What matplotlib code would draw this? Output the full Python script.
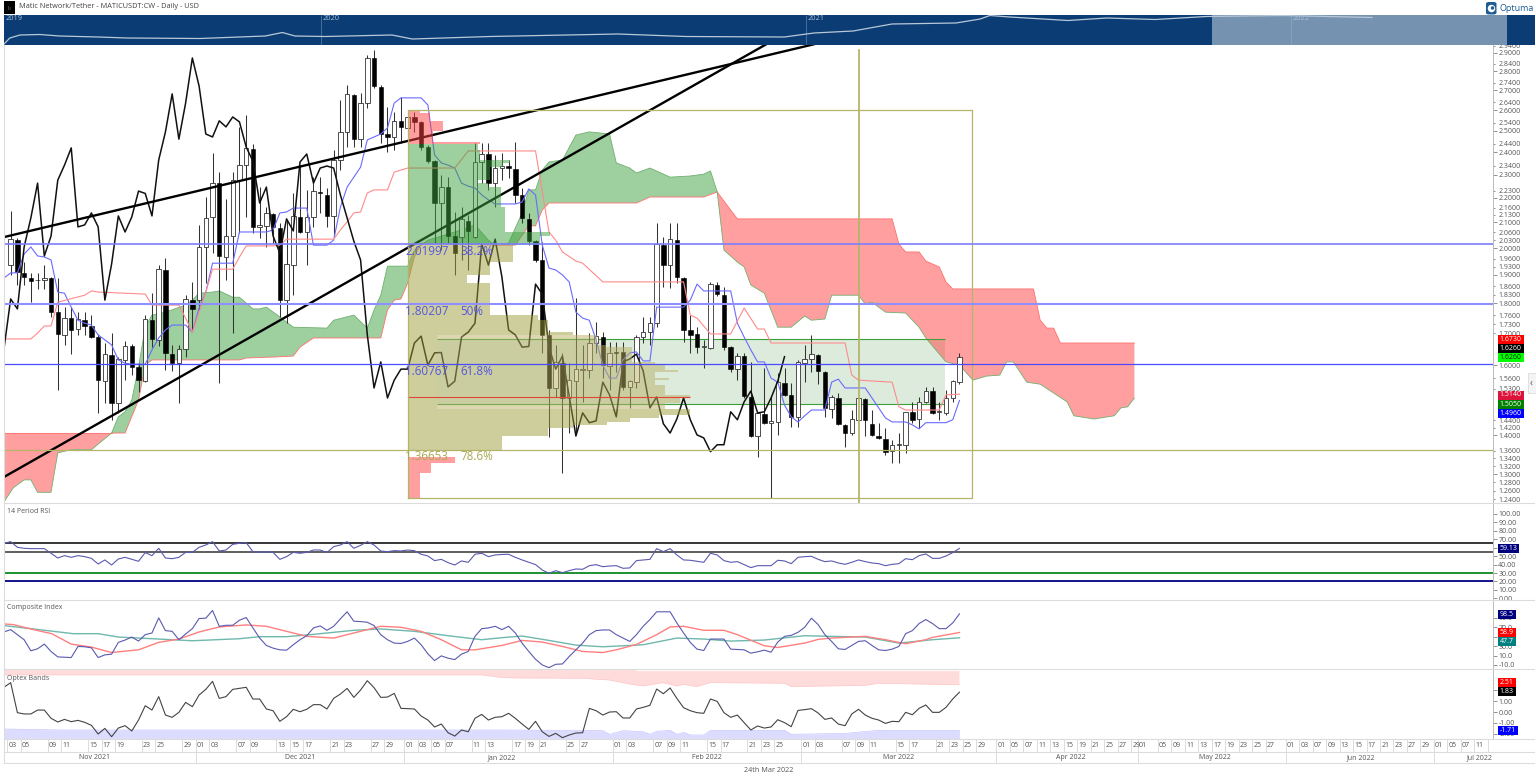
import numpy as np
import pandas as pd
import matplotlib
matplotlib.use('Agg')
from matplotlib import pyplot as plt
from matplotlib.lines import Line2D
from matplotlib.patches import Rectangle, FancyBboxPatch, Ellipse
from matplotlib.ticker import FixedLocator, FormatStrFormatter, NullFormatter

plt.rcParams['font.family'] = ['Open Sans', 'DejaVu Sans']

# candles, one per day from 3 Nov 2021 to 24 Mar 2022
opens = [1.936,2.030,1.907,1.889,1.882,1.882,1.889,1.770,1.695,1.750,
         1.714,1.743,1.724,1.688,1.552,1.631,1.489,1.616,1.659,1.594,
         1.552,1.743,1.679,1.918,1.634,1.606,1.650,1.811,1.811,2.004,
         2.122,2.263,1.966,2.046,2.276,2.342,2.415,2.082,2.086,2.134,
         2.078,1.811,1.936,2.122,2.062,2.122,2.225,2.213,2.126,2.365,
         2.495,2.677,2.461,2.636,2.872,2.718,2.485,2.471,2.548,2.514,
         2.567,2.543,2.424,2.360,2.179,2.246,2.046,2.042,2.106,2.042,
         2.356,2.392,2.263,2.329,2.338,2.325,2.213,2.114,2.026,1.955,
         1.695,1.532,1.606,1.503,1.552,1.585,1.585,1.669,1.688,1.597,
         1.641,1.641,1.535,1.549,1.688,1.704,1.733,2.011,1.936,2.030,
         1.889,1.711,1.698,1.656,1.653,1.864,1.828,1.656,1.588,1.628,
         1.506,1.398,1.458,1.434,1.436,1.546,1.512,1.450,1.606,1.619,
         1.631,1.579,1.472,1.503,1.428,1.406,1.442,1.500,1.431,1.398,
         1.390,1.359,1.375,1.375,1.464,1.444,1.492,1.523,1.464,1.461,
         1.503,1.549]
highs = [2.146,2.038,1.947,1.907,1.907,1.936,1.893,1.889,1.787,1.787,
         1.770,1.770,1.760,1.698,1.669,1.701,1.625,1.675,1.666,1.606,
         1.760,1.835,1.936,1.962,1.663,1.663,1.828,1.875,2.090,2.204,
         2.397,2.311,2.196,2.311,2.519,2.577,2.438,2.246,2.162,2.138,
         2.098,2.110,2.221,2.342,2.234,2.289,2.289,2.242,2.410,2.652,
         2.729,2.682,2.687,2.889,2.917,2.729,2.616,2.591,2.667,2.591,
         2.591,2.548,2.434,2.365,2.298,2.289,2.142,2.162,2.130,2.443,
         2.443,2.443,2.387,2.397,2.365,2.448,2.242,2.138,2.030,2.023,
         1.711,1.663,1.638,1.606,1.818,1.663,1.701,1.737,1.704,1.672,
         1.672,1.672,1.555,1.695,1.753,1.753,2.098,2.042,2.098,2.098,
         1.893,1.760,1.720,1.679,1.875,1.875,1.857,1.659,1.638,1.638,
         1.610,1.464,1.591,1.506,1.576,1.591,1.546,1.616,1.663,1.695,
         1.634,1.582,1.512,1.518,1.431,1.469,1.506,1.503,1.469,1.434,
         1.420,1.388,1.406,1.464,1.492,1.506,1.535,1.535,1.492,1.526,
         1.555,1.638]
lows = [1.900,1.864,1.864,1.804,1.850,1.850,1.754,1.526,1.663,1.634,
        1.695,1.695,1.685,1.461,1.489,1.442,1.461,1.555,1.570,1.520,
        1.549,1.656,1.659,1.585,1.582,1.489,1.625,1.711,1.777,1.871,
        1.981,1.546,1.882,1.701,2.058,2.122,2.058,2.038,2.004,2.019,
        1.754,1.733,1.828,2.058,1.936,2.082,2.138,2.082,2.042,2.320,
        2.424,2.424,2.424,2.611,2.713,2.443,2.402,2.410,2.443,2.490,
        2.495,2.410,2.352,2.019,1.992,2.019,1.900,1.955,1.918,2.038,
        2.263,2.234,2.162,2.276,2.285,2.179,2.098,2.011,1.947,1.638,
        1.396,1.506,1.304,1.406,1.406,1.492,1.561,1.638,1.561,1.526,
        1.579,1.526,1.475,1.532,1.669,1.663,1.720,1.857,1.853,1.871,
        1.672,1.638,1.638,1.591,1.650,1.825,1.647,1.579,1.555,1.503,
        1.396,1.343,1.431,1.243,1.401,1.509,1.423,1.423,1.549,1.579,
        1.543,1.450,1.447,1.428,1.370,1.401,1.442,1.398,1.398,1.390,
        1.349,1.328,1.328,1.354,1.434,1.420,1.489,1.458,1.442,1.456,
        1.492,1.543]
closes = [2.034,1.911,1.893,1.878,1.880,1.889,1.770,1.698,1.750,1.711,
          1.747,1.724,1.688,1.555,1.634,1.489,1.619,1.659,1.594,1.555,
          1.747,1.682,1.921,1.638,1.606,1.650,1.815,1.781,2.004,2.118,
          2.263,1.970,2.046,2.276,2.342,2.420,2.082,2.090,2.138,2.082,
          1.811,1.940,2.126,2.062,2.122,2.229,2.219,2.126,2.365,2.495,
          2.682,2.461,2.636,2.872,2.723,2.485,2.471,2.548,2.519,2.567,
          2.543,2.424,2.360,2.179,2.246,2.046,1.981,2.114,2.066,2.356,
          2.392,2.263,2.329,2.338,2.329,2.213,2.118,2.026,1.955,1.695,
          1.532,1.610,1.503,1.555,1.588,1.588,1.669,1.691,1.600,1.638,
          1.639,1.535,1.552,1.688,1.704,1.733,2.015,1.936,2.034,1.893,
          1.711,1.695,1.656,1.658,1.867,1.832,1.656,1.588,1.628,1.509,
          1.398,1.461,1.434,1.439,1.549,1.512,1.450,1.610,1.619,1.634,
          1.582,1.475,1.506,1.431,1.406,1.444,1.503,1.442,1.401,1.393,
          1.357,1.375,1.375,1.464,1.442,1.492,1.523,1.461,1.464,1.503,
          1.552,1.626]

# ichimoku lines, tenkan starts one bar before the first candle
tenkan = [1.889,1.907,1.908,1.977,2.004,1.970,1.966,1.955,1.839,1.835,1.787,1.743,1.733,1.727,1.695,1.679,1.663,1.616,1.606,1.603,
          1.603,1.603,1.647,1.685,1.711,1.727,1.727,1.727,1.704,1.784,1.839,1.943,1.943,1.943,1.943,2.062,2.062,2.062,2.062,2.062,
          2.070,2.138,2.142,2.158,2.158,2.158,2.011,2.011,2.011,2.030,2.162,2.246,2.289,2.333,2.457,2.471,2.485,2.514,2.636,2.662,
          2.662,2.662,2.662,2.626,2.387,2.352,2.342,2.329,2.263,2.250,2.242,2.213,2.192,2.175,2.175,2.175,2.175,2.183,2.238,2.213,
          2.011,1.925,1.918,1.900,1.875,1.770,1.750,1.743,1.679,1.600,1.561,1.561,1.616,1.638,1.641,1.613,1.613,1.787,1.787,1.787,
          1.787,1.787,1.811,1.867,1.843,1.843,1.843,1.843,1.843,1.733,1.688,1.647,1.610,1.610,1.561,1.549,1.483,1.450,1.436,1.453,
          1.469,1.469,1.469,1.549,1.558,1.532,1.532,1.532,1.532,1.503,1.475,1.447,1.436,1.436,1.436,1.428,1.417,1.434,1.434,1.434,
          1.434,1.442,1.496]
kijun_days = [-1,3,4,5,6,7,11,12,13,20,21,25,26,27,28,29,30,33,34,35,39,40,41,48,49,50,51,52,53,54,56,57,58,59,66,68,78,80,81,82,84,85,88,100,101,102,104,107,109,111,112,113,124,125,126,131,132,133,138,139,141]
kijun = [1.682,1.682,1.701,1.724,1.724,1.804,1.828,1.843,1.839,1.832,1.794,1.794,1.750,1.704,1.770,1.839,1.921,1.921,1.966,2.008,2.008,2.011,2.034,2.034,2.070,2.102,2.138,2.142,2.221,2.234,2.234,2.311,2.320,2.329,2.329,2.406,2.406,2.062,2.030,1.985,1.951,1.943,1.875,1.875,1.760,1.750,1.698,1.698,1.784,1.714,1.714,1.669,1.669,1.570,1.555,1.549,1.478,1.469,1.469,1.512,1.514]

# cloud edges, day positions run past the last candle
red1_top_days = [-1,15]
red1_top = [1.406,1.406]
red1_bot_days = [-1,0.4,2,3,4,6,7,9,12,15]
red1_bot = [1.233,1.267,1.286,1.286,1.256,1.256,1.354,1.362,1.362,1.406]
green_top_days = [15,16,17,18,19,20,21,23,26,27,28,30,31,33,34,36,37,38,40,42,47,48,51,53,54,55,56,59,60,62,66,69,71,72,74,76,77,78,79,80,82,84,86,89,90,92,93,95,98,101,103,104,105]
green_top = [1.406,1.450,1.464,1.497,1.594,1.720,1.760,1.770,1.794,1.811,1.835,1.839,1.843,1.821,1.821,1.781,1.781,1.787,1.754,1.720,1.717,1.743,1.760,1.717,1.777,1.828,1.932,1.932,1.992,2.030,2.062,2.090,2.030,2.011,2.019,2.138,2.234,2.234,2.320,2.356,2.365,2.480,2.495,2.485,2.352,2.329,2.307,2.329,2.289,2.294,2.302,2.316,2.225]
green_bot_days = [15,17,19,20,21,34,35,39,42,43,45,55,56,57,58,59,60,61,72,75,77,78,79,80,93,95,103,105]
green_bot = [1.406,1.406,1.497,1.600,1.616,1.616,1.622,1.625,1.628,1.656,1.685,1.685,1.777,1.811,1.815,1.871,1.966,2.019,2.011,2.011,2.086,2.086,2.150,2.179,2.179,2.204,2.204,2.225]
red2_top_days = [105,107,108,131,132,133,135,136,138,139,140,152,153,154,155,156,167]
red2_top = [2.225,2.150,2.114,2.114,2.015,1.985,1.985,1.951,1.929,1.875,1.850,1.850,1.743,1.717,1.717,1.669,1.669]
red2_bot_days = [105,106,108,109,110,112,114,116,118,119,121,122,126,127,128,130,133,135,136,139,141,143,145,147,148,149,151,153,157,158,161,164,165,166,167]
red2_bot = [2.225,1.992,1.947,1.929,1.864,1.835,1.720,1.720,1.757,1.743,1.747,1.828,1.828,1.798,1.804,1.770,1.767,1.720,1.685,1.610,1.600,1.555,1.567,1.570,1.610,1.610,1.549,1.543,1.492,1.453,1.444,1.453,1.475,1.478,1.503]

# volume profile, price band and length in bars
prof_high = [2.601,2.586,2.548,2.500,2.448, 2.438,2.410,2.365,2.352,2.333,2.276,2.263,2.246,2.162,2.062,2.046,
             2.011,1.947,1.900,1.871,1.818,1.760,1.743,1.704,1.695,1.663,1.656,1.610,1.600,1.585,1.579,1.561,1.555,1.541,1.512,1.503,1.489,1.472,1.456,1.447,1.436,1.428,1.420,1.398,
             1.344,1.328,1.304]
prof_low = [2.586,2.548,2.500,2.448,2.438, 2.410,2.365,2.352,2.333,2.276,2.263,2.246,2.162,2.062,2.046,2.011,
            1.947,1.900,1.871,1.818,1.760,1.743,1.704,1.695,1.663,1.656,1.610,1.600,1.585,1.579,1.561,1.555,1.541,1.512,1.503,1.489,1.472,1.456,1.447,1.436,1.428,1.420,1.398,1.362,
            1.328,1.304,1.243]
prof_len = [1.8,3.3,5.2,3.7,10.7, 10.4,10.7,15.2,14.1,12.2,10.4,11.9,13.8,14.4,21.1,19.6,
            15.6,12.2,8.8,12.2,12.2,19.3,20.8,24.5,28.1,29.4,33.4,36.7,38.3,40.1,36.7,38.9,36.7,38.3,41.9,40.4,38.3,41.9,37.4,33,29.6,24.5,20.8,14,
            7,3.4,1.8]
prof_kind = ['r']*5 + ['g']*11 + ['o']*28 + ['r']*3

fib_levels = [2.015,1.797,1.603,1.362]
fib_names = ['2.01997','1.80207','1.60767','1.36653']
fib_pcts = ['38.2%','50%','61.8%','78.6%']
box_days = [59,142.9]
box_prices = [1.243,2.601]
cycle_day = 126
cycle_prices = [1.2306,2.916]
value_days = [63.4,138.8]
value_prices = [1.486,1.683]
poc_days = [59,100.9]
poc_price = 1.506
trend1_days = [-1,122]
trend1 = [2.042,2.972]
trend2_days = [-1,115]
trend2 = [1.293,3.007]

rsi = [65.2,67.2,60.5,59.3,58.9,58.9,58.9,53.4,47.8,50.6,48.6,50.6,49.4,47.4,40.7,45.5,39.5,46.6,48.6,46.2,
       43.9,54.2,50.6,59.3,47.8,47,48.6,54.5,54.5,60.5,63.2,67.2,56.1,57.3,64,65.2,66,55.3,54.5,55.3,
       54.5,46.2,49.4,54.5,53.4,54.5,57.3,57.3,54.2,61.3,63.2,67.2,59.3,62.8,67.2,63.2,56.1,55.3,56.5,56.1,
       57.3,56.5,52.2,50.2,44.7,46.2,42.3,39.5,44.3,42.7,52.2,53.4,49.4,51.4,52,52.2,48.6,45.5,42.7,40,
       33.6,29.6,32.8,30.4,32.8,34.8,34.4,38.7,39.9,37.5,38.3,38.7,35.6,36,44.7,45.5,46.2,58.9,55.3,58.9,
       51.4,45.5,45.1,43.9,42.7,53.4,51.4,44.7,42.7,43.5,39.9,36.4,38.7,38.7,38.7,45.1,44.3,41.1,48.6,49.4,
       49.8,46.2,43.5,44.3,41.9,40.3,42.7,45.5,43.5,41.9,41.1,38.7,40.3,41.1,47,45.8,50.6,52.6,47.4,47.4,
       50.2,54.2,59.13]
rsi_levels = [65,55,30,20]
rsi_level_colors = ['#000000','#333333','#0a8a1e','#00007f']

comp = [60,65,54.3,43.6,20,24.3,34.3,18.6,7.1,6.4,5.7,29.3,28.6,26.4,5.7,11.4,12.9,37.9,42.9,49.3,
        40.7,54.3,57.9,90,62.9,61.4,43.6,55.7,67.1,88.6,89.3,105.7,72.1,74.3,74.3,85,90.7,68.6,47.1,31.4,
        25.7,22.1,21.4,32.9,43.6,52.1,68.6,72.9,63.6,72.1,87.9,102.9,82.9,82.1,80.7,73.6,54.3,43.6,36.4,35.7,
        40,47.1,32.9,13.6,-0.7,9.3,4.3,1.4,12.9,18.6,50.7,67.1,68.6,72.1,65,72.1,57.9,36.4,18.6,2.1,
        -10,-15.7,-8.6,-7.9,7.9,22.1,36.4,54.3,62.9,64.3,64.3,54.3,47.1,40,54.3,72.1,86.4,102.9,102.9,102.9,
        79.3,57.9,37.9,23.6,20.7,45,45,45,23.6,22.9,22.1,15,17.9,21.4,17.1,38.6,50.7,52.9,59.3,70,
        89.3,75.7,54.3,40,24.3,22.9,31.4,40,41.4,31.4,22.1,20.7,23.6,29.3,56.4,62.9,77.9,86.4,77.9,67.1,
        67.1,79.3,98.5]
comp_fast_days = [-1,0.4,3.4,6.1,9,12,15,19,22,25,28,31,35,38,41,44,48,51,55,58,61,64,67,69,73,76,79,82,85,88,90,93,96,98,100,103,106,108,112,114,118,120,122,127,130,133,136,137,141]
comp_fast = [77.1,75.7,65,56.4,34.3,27.9,16.4,22.1,37.9,45,60,70.7,75,72.1,61.4,50.7,47.1,57.9,72.1,70,61.4,43.6,22.1,22.1,31.4,42.1,38.6,29.3,18.6,16.4,22.1,33.6,54.3,70.7,72.1,63.6,63.6,54.3,30.7,27.1,36.4,44.3,47.1,50.7,43.6,35,43.6,48.6,58.9]
comp_slow_days = [-1,3.4,9.3,13,16,22,27,34,37,41,44.5,51,55,60,65,70,73,76,80,84,88,91,94,99,103,107,112,118,122,127,132,137,141]
comp_slow = [73.6,66.4,56.4,56.4,49.3,45,41.4,45.7,50,50,54.3,63.6,66.4,61.4,52.1,43.6,47.9,51.4,42.1,32.1,28.6,30.7,32.9,47.1,45,40.7,42.9,52.1,50.7,49.3,36.4,43.6,47.7]

optex = [2.28,2.71,-0.06,-0.18,-0.18,0.18,0.18,-0.58,-0.92,-0.68,-0.89,-0.77,-0.95,-1.23,-2.03,-1.51,-2.28,-1.48,-1.26,-1.75,
         -0.74,0.58,0.18,1.42,-0.28,-0.49,-0.03,0.89,0.49,1.57,2.09,2.83,1.26,1.42,2.09,2.18,2.28,1.2,1.2,0.28,
         0.12,-0.86,-0.43,0.25,0.03,0.25,0.68,0.68,0.28,1.26,1.66,2.18,1.35,2.03,2.89,2.25,1.35,1.38,1.72,0.34,
         0.31,0.28,-0.37,-0.74,-1.38,-1.11,-1.91,-2.22,-1.66,-1.82,-0.58,-0.22,-0.74,-0.49,-0.43,-0.12,-0.58,-1.11,-1.6,-0.86,
         -1.82,-2.25,-1.97,-2.37,-2.12,-1.94,-1.91,0.34,0.12,-0.28,0,0.03,-0.55,-0.55,0.28,0.43,0.62,2.12,1.69,2.22,
         1.26,0.4,0.12,-0.06,-0.12,1.2,0.98,-0.06,-0.49,-0.28,-0.98,-1.66,-1.29,-1.48,-1.38,-0.71,-0.98,-1.35,0.15,0.22,
         0.31,-0.09,-0.68,-0.55,-1.11,-1.26,-0.18,0.25,-0.28,-0.58,-0.74,-1.05,-0.86,-0.89,-0.03,-0.25,0.34,0.65,-0.03,-0.03,
         0.43,1.2,1.83]
band_up_days = [-1,70,73,75,85,89,92,94,97,99,100,102,104,115,116,127,129,141]
band_up = [3.42,3.42,3.18,3.14,3.11,2.95,2.58,2.4,2.71,2.4,2.55,2.34,2.71,2.65,2.34,2.46,2.65,2.51]
band_up_top_days = [-1,93,93,141]
band_up_top = [3.91,3.91,3.78,3.78]
band_dn_days = [-1,8,73,88,89,91,94,95,96,98,99,100,101,103,104,115,116,124,129,141]
band_dn = [-1.57,-1.66,-1.66,-1.72,-2.06,-1.72,-1.82,-2.06,-1.78,-1.69,-2.06,-1.88,-2.12,-2.12,-1.69,-1.69,-2.06,-1.97,-1.69,-1.71]

# navigator strip
nav_years = [2019.346,2019.358,2019.379,2019.42,2019.46,2019.54,2019.6,2019.75,2019.885,2019.92,2019.946,2020.008,2020.146,2020.188,2020.348,2020.612,
             2020.752,2020.955,2021.016,2021.097,2021.177,2021.309,2021.359,2021.379,2021.42,2021.54,2021.62,2021.72,2021.825,2021.985,2022.167]
nav_vals = [1,7,10,10.5,9,8,7,6.5,9,12.5,9,8.5,10,6,8.5,11,8.5,8,12,14,21,22,26,29.5,28,24.5,27,25.5,28.5,29.5,27.5]
nav_ticks = [2020,2021,2022]

main_major = [2.9,2.8,2.7,2.6,2.5,2.4,2.3,2.2,2.1,2.0,1.9,1.8,1.6,1.4,1.3]
main_minor = [2.94,2.84,2.74,2.64,2.54,2.44,2.34,2.23,2.16,2.13,2.06,2.03,1.96,1.93,1.86,1.83,1.76,1.73,1.7,1.56,1.53,1.44,1.42,1.36,1.34,1.32,1.28,1.26,1.24]
rsi_ticks = [100,90,80,70,60,50,40,30,20,10,0]
comp_ticks = [90,70,50,30,10,-10]
optex_ticks = [2,1,0,-1,-2]

day_labels = {'2021-11':[3,5,9,11,15,17,19,23,25,29],
              '2021-12':[1,3,7,9,13,15,17,21,23,27,29],
              '2022-01':[1,3,5,7,11,13,17,19,21,25,27],
              '2022-02':[1,3,7,9,11,15,17,21,23,25],
              '2022-03':[1,3,7,9,11,15,17,21,23,25,29],
              '2022-04':[1,5,7,11,13,15,19,21,25,27,29],
              '2022-05':[1,5,9,11,13,17,19,23,25,27],
              '2022-06':[1,3,7,9,13,15,17,21,23,27,29],
              '2022-07':[1,5,7,11,13]}
month_names = ['Nov 2021','Dec 2021','Jan 2022','Feb 2022','Mar 2022','Apr 2022','May 2022','Jun 2022','Jul 2022']
month_mid = [12.5,43,73,103.4,132,157.5,179,200.7,218.3]

main_tags = [('1.6730','#ff0000','white',339.3),('1.6260','#000000','white',348.6),('1.6260','#00ff00','#1a1a1a',357.8),
             ('1.5140','#dc143c','white',395),('1.5050','#008000','white',404.2),('1.4960','#0000ff','white',413.4)]
low_tags = [('59.13','#00007f','white',548,21.5),('98.5','#00007f','white',614.3,18.5),('58.9','#ff0000','white',632.3,18.5),
            ('47.7','#008080','white',641.7,18.5),('2.51','#ff0000','white',682.4,18.5),('1.83','#000000','white',691.7,18.5),
            ('-1.71','#0000ff','white',730.7,20.5)]

W, H = 1536, 783
GREY = '#555555'
LINE = '#dcdcdc'
FS = 5.0

def pane(x0, y0, x1, y1):
    return fig.add_axes([x0/W, 1-y1/H, (x1-x0)/W, (y1-y0)/H])

def day_pos(date):
    # calendar days up to the last candle, weekdays only after it
    last = pd.Timestamp('2022-03-24')
    d = pd.Timestamp(date)
    if d <= last:
        return (d-pd.Timestamp('2021-11-03')).days
    return 141+int(np.busday_count(last.date(), d.date()))

fig = plt.figure(figsize=(W/100, H/100), dpi=100, facecolor='white')
xlim = (-0.991, 220.29)
days = np.arange(len(closes))

ax = pane(4, 45, 1493, 503)
ax.set_yscale('log')
ax.set_xlim(*xlim)
ax.set_ylim(1.2306, 2.944)

# cloud
for xs, ys, xb, yb, col in [(red1_top_days,red1_top,red1_bot_days,red1_bot,'#ff4040'),
                            (green_top_days,green_top,green_bot_days,green_bot,'#3fa13f'),
                            (red2_top_days,red2_top,red2_bot_days,red2_bot,'#ff4040')]:
    ax.fill(list(xs)+list(xb)[::-1], list(ys)+list(yb)[::-1], color=col, alpha=0.5, lw=0, zorder=1)
ax.plot(red1_top_days, red1_top, color='#ff7070', lw=0.6, zorder=1.2)
ax.plot(red1_bot_days, red1_bot, color='#70b070', lw=0.6, zorder=1.2)
ax.plot(green_top_days, green_top, color='#70b070', lw=0.6, zorder=1.2)
ax.plot(green_bot_days, green_bot, color='#ff7070', lw=0.6, zorder=1.2)
ax.plot(red2_top_days, red2_top, color='#ff7070', lw=0.6, zorder=1.2)
ax.plot(red2_bot_days, red2_bot, color='#70b070', lw=0.6, zorder=1.2)

# value area
ax.fill_between(value_days, value_prices[0], value_prices[1], color='#dcebdc', lw=0, zorder=0.8)
ax.hlines(value_prices, value_days[0], value_days[1], color='#3aa03a', lw=0.8, zorder=2)

# candles
o = np.array(opens); c = np.array(closes)
ax.vlines(days, lows, highs, color='#333333', lw=0.75, zorder=3)
down = c < o
ax.bar(days[down], np.maximum(o-c, 0.002)[down], bottom=c[down], width=0.66, color='black', edgecolor='black', lw=0.4, zorder=3.2)
ax.bar(days[~down], np.maximum(c-o, 0.002)[~down], bottom=o[~down], width=0.66, color='white', edgecolor='#333333', lw=0.6, zorder=3.2)

ax.plot(np.arange(-1, len(tenkan)-1), tenkan, color='#6a6aff', lw=0.8, zorder=3.4)
ax.plot(kijun_days, kijun, color='#ff8a8a', lw=0.8, zorder=3.4)
ax.plot(days[25:]-26, c[25:], color='#111111', lw=1.1, zorder=3.5)
ax.plot(trend1_days, trend1, color='black', lw=1.7, zorder=3.6)
ax.plot(trend2_days, trend2, color='black', lw=1.7, zorder=3.6)

# volume profile sits over the price action, lighter where it crosses the value area
prof_cols = {'r':'#ff4040', 'g':'#3fa13f', 'o':'#9e9e3c'}
for hi, lo, n, k in zip(prof_high, prof_low, prof_len, prof_kind):
    right = box_days[0]+n
    hit = k == 'o' and lo < value_prices[1] and hi > value_prices[0] and right > value_days[0]
    if not hit:
        ax.fill_between([box_days[0], right], lo, hi, color=prof_cols[k], alpha=0.5, lw=0, zorder=4)
        continue
    ax.fill_between([box_days[0], value_days[0]], lo, hi, color=prof_cols[k], alpha=0.5, lw=0, zorder=4)
    ax.fill_between([value_days[0], right], lo, hi, color='#bab164', alpha=0.5, lw=0, zorder=4)

ax.hlines(poc_price, poc_days[0], poc_days[1], color='#e0453a', lw=0.8, zorder=4.2)
olive = '#b5b56a'
ax.plot([box_days[0],box_days[0],box_days[1],box_days[1],box_days[0]],
        [box_prices[0],box_prices[1],box_prices[1],box_prices[0],box_prices[0]], color=olive, lw=0.9, zorder=4.3)
ax.plot([cycle_day,cycle_day], cycle_prices, color=olive, lw=1.3, zorder=4.3)
ax.axhline(fib_levels[0], color='#7d7dff', lw=1.2, zorder=4.4)
ax.axhline(fib_levels[1], color='#8f8fff', lw=1.5, zorder=4.4)
ax.axhline(fib_levels[2], color='#4a4aff', lw=0.9, zorder=4.4)
ax.axhline(fib_levels[3], color=olive, lw=0.9, zorder=4.4)
for lev, name, pct, col in zip(fib_levels, fib_names, fib_pcts, ['#5555e0']*3+['#a8a850']):
    ax.annotate(name, (58.6, lev), xytext=(0, -5.2), textcoords='offset points', color=col, fontsize=8.4, va='center', zorder=5)
    ax.annotate(pct, (66.8, lev), xytext=(0, -5.2), textcoords='offset points', color=col, fontsize=8.4, va='center', zorder=5)

# shared look of the panes
def style(a, major, minor=None, fmt='%.2f', size=FS):
    a.set_xlim(*xlim)
    a.xaxis.set_visible(False)
    a.yaxis.tick_right()
    a.yaxis.set_major_locator(FixedLocator(major))
    a.yaxis.set_major_formatter(FormatStrFormatter(fmt))
    a.tick_params(axis='y', which='major', length=2.6, width=0.5, color='#666666', labelsize=size, labelcolor=GREY, pad=1.2)
    if minor is not None:
        a.yaxis.set_minor_locator(FixedLocator(minor))
        a.yaxis.set_minor_formatter(FormatStrFormatter(fmt))
        a.tick_params(axis='y', which='minor', length=1.4, width=0.5, color='#666666', labelsize=size, labelcolor=GREY, pad=2.4)
    else:
        a.yaxis.set_minor_formatter(NullFormatter())
    for s in ['top', 'left', 'bottom']:
        a.spines[s].set_visible(False)
    a.spines['right'].set_color('#bbbbbb')
    a.spines['right'].set_linewidth(0.7)
    a.patch.set_alpha(0)

style(ax, main_major, main_minor, '%.4f')

# rsi
ax2 = pane(4, 503, 1493, 599.5)
ax2.set_ylim(-1.4, 113)
for lev, col, lw in zip(rsi_levels, rsi_level_colors, [1.1, 1.1, 1.3, 1.3]):
    ax2.axhline(lev, color=col, lw=lw)
ax2.plot(np.arange(-1, len(rsi)-1), rsi, color='#5a5ab0', lw=0.8)
ax2.text(-0.5, 106.5, '14 Period RSI', fontsize=FS, color=GREY, va='top')
style(ax2, rsi_ticks)

# composite index
ax3 = pane(4, 599.5, 1493, 669)
ax3.set_ylim(-18.6, 129)
ax3.plot(comp_slow_days, comp_slow, color='#6fb8ae', lw=1)
ax3.plot(comp_fast_days, comp_fast, color='#ff7f7f', lw=1)
ax3.plot(np.arange(-1, len(comp)-1), comp, color='#5a5ab0', lw=0.8)
ax3.text(-0.5, 118.5, 'Composite Index', fontsize=FS, color=GREY, va='top')
style(ax3, comp_ticks, fmt='%.1f')

# optex bands
ax4 = pane(4, 669, 1493, 739)
ax4.set_ylim(-2.49, 3.97)
ax4.fill(list(band_up_top_days)+list(band_up_days)[::-1], list(band_up_top)+list(band_up)[::-1], color='#ffdcdc', lw=0)
ax4.fill_between(band_dn_days, band_dn, -2.49, color='#dcdcff', lw=0)
ax4.plot(band_up_days, band_up, color='#ffc4c4', lw=0.5)
ax4.plot(band_dn_days, band_dn, color='#c4c4ff', lw=0.5)
ax4.plot(np.arange(-1, len(optex)-1), optex, color='#444444', lw=0.8)
ax4.text(-0.5, 3.38, 'Optex Bands', fontsize=FS, color=GREY, va='top')
style(ax4, optex_ticks)

# date strip
ax5 = pane(4, 739, 1493, 763)
ax5.set_xlim(*xlim)
ax5.set_ylim(0, 24)
ax5.axis('off')
for month, dlist in day_labels.items():
    for d in dlist:
        pos = day_pos('%s-%02d' % (month, d))
        if pos-0.5 > xlim[1]:
            continue
        ax5.vlines(pos-0.5, 11.3, 24, color=LINE, lw=0.7)
        if pos < xlim[1]-1:
            ax5.text(pos+0.27, 17.7, '%02d' % d, fontsize=FS, color=GREY, ha='center', va='center')
for month in list(day_labels)[1:]:
    ax5.vlines(day_pos(month+'-01')-0.5, 0, 11.3, color=LINE, lw=0.7)
for name, mid in zip(month_names, month_mid):
    ax5.text(mid, 5.6, name, fontsize=FS, color=GREY, ha='center', va='center')

# navigator
ax6 = pane(4, 15, 1535, 45)
ax6.set_xlim(2019.346, 2022.503)
ax6.set_ylim(0, 30)
ax6.set_facecolor('#0b3d74')
for s in ax6.spines.values():
    s.set_visible(False)
ax6.set_xticks([]); ax6.set_yticks([])
ax6.vlines(nav_ticks, 0, 30, color='#4f77a0', lw=0.6)
ax6.axvspan(2021.837, 2022.445, color='#9fb4ca', alpha=0.72, lw=0, zorder=2)
ax6.plot(nav_years, nav_vals, color='#b9c8d8', lw=0.9, zorder=3)
ax6.text(2019.35, 26, '2019', fontsize=5.3, color='#a9bfd6', va='center', zorder=4)
for yr in nav_ticks:
    ax6.text(yr+0.003, 26, str(yr), fontsize=5.3, color='#a9bfd6', va='center', zorder=4)

# frame lines
for y in [503, 599.5, 669, 739, 752, 763]:
    fig.add_artist(Line2D([4/W, 1534/W], [1-y/H, 1-y/H], color=LINE, lw=0.8))
fig.add_artist(Line2D([4/W, 4/W], [1-45/H, 1-763/H], color=LINE, lw=0.8))

# header
fig.add_artist(Rectangle((4/W, 1-14/H), 11/W, 13/H, color='black', lw=0, transform=fig.transFigure))
fig.text(9.5/W, 1-8/H, 'ılı', fontsize=3.5, color='#888888', ha='center', va='center')
fig.text(19/W, 1-6/H, 'Matic Network/Tether - MATICUSDT:CW - Daily - USD', fontsize=5.3, color='#444444', va='center')
fig.text(769/W, 1-771/H, '24th Mar 2022', fontsize=5.2, color=GREY, ha='center', va='center')
fig.text(1499.5/W, 1-8.5/H, 'Optuma', fontsize=6.5, color='#1c5c92', va='center')
fig.add_artist(FancyBboxPatch((1486/W, 1-14.5/H), 10.5/W, 12.5/H, boxstyle='round,pad=0,rounding_size=0.002',
                              color='#1c5c92', lw=0, transform=fig.transFigure))
fig.add_artist(Ellipse((1491.5/W, 1-8.5/H), 7.5/W, 7.5/H, color='white', lw=0, transform=fig.transFigure))
fig.add_artist(Ellipse((1492.5/W, 1-8/H), 3.5/W, 3.5/H, color='#1c5c92', lw=0, transform=fig.transFigure))

# value tags on the right
def tag(text, bg, fg, y, w):
    fig.add_artist(Rectangle((1497.5/W, 1-(y+4.5)/H), w/W, 9/H, color=bg, lw=0, transform=fig.transFigure, zorder=6))
    fig.text((1497.5+w/2)/W, 1-y/H, text, fontsize=FS, color=fg, ha='center', va='center', zorder=7)

for text, bg, fg, y in main_tags:
    tag(text, bg, fg, y, 26)
for text, bg, fg, y, w in low_tags:
    tag(text, bg, fg, y, w)

# collapse tab
fig.add_artist(Rectangle((1527.5/W, 1-393/H), 8/W, 20/H, facecolor='#f4f4f4', edgecolor=LINE, lw=0.6, transform=fig.transFigure))
fig.text(1531.5/W, 1-383/H, '‹', fontsize=7, color='#555555', ha='center', va='center')

fig.savefig('out.png', dpi=100)
